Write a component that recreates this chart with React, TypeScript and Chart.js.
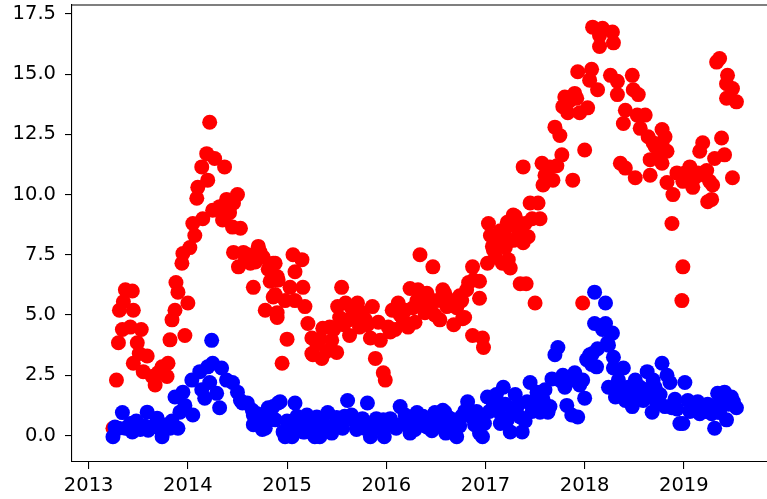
import React, { useEffect, useRef } from "react";
import { Chart, registerables } from "chart.js";

Chart.register(...registerables);

const redYears = [
  2013.245, 2013.28, 2013.30, 2013.31, 2013.34, 2013.35, 2013.37, 2013.42, 2013.44, 2013.45, 2013.45, 2013.49,
  2013.51, 2013.53, 2013.55, 2013.59, 2013.64, 2013.67, 2013.70, 2013.74, 2013.79, 2013.80, 2013.82, 2013.84,
  2013.87, 2013.88, 2013.90, 2013.94, 2013.95, 2013.97, 2014.00, 2014.02, 2014.05, 2014.07, 2014.09, 2014.10,
  2014.14, 2014.15, 2014.19, 2014.20, 2014.22, 2014.25, 2014.27, 2014.32, 2014.35, 2014.37, 2014.39, 2014.42,
  2014.45, 2014.46, 2014.46, 2014.50, 2014.51, 2014.53, 2014.56, 2014.63, 2014.66, 2014.71, 2014.76, 2014.78,
  2014.86, 2014.86, 2014.88, 2014.88, 2014.90, 2014.90, 2014.90, 2014.91, 2014.95, 2014.98, 2015.00, 2015.03,
  2015.06, 2015.08, 2015.08, 2015.15, 2015.16, 2015.18, 2015.21, 2015.25, 2015.25, 2015.26, 2015.35, 2015.36,
  2015.43, 2015.45, 2015.50, 2015.51, 2015.55, 2015.59, 2015.62, 2015.63, 2015.68, 2015.71, 2015.79, 2015.84,
  2015.86, 2015.89, 2015.94, 2015.97, 2015.99, 2016.02, 2016.06, 2016.09, 2016.12, 2016.19, 2016.22, 2016.24,
  2016.31, 2016.32, 2016.34, 2016.39, 2016.44, 2016.44, 2016.47, 2016.51, 2016.54, 2016.57, 2016.59, 2016.61,
  2016.66, 2016.68, 2016.69, 2016.76, 2016.77, 2016.79, 2016.81, 2016.83, 2016.87, 2016.87, 2016.88, 2016.94,
  2016.94, 2016.97, 2016.98, 2017.02, 2017.03, 2017.05, 2017.07, 2017.08, 2017.15, 2017.17, 2017.17, 2017.22,
  2017.23, 2017.25, 2017.28, 2017.28, 2017.30, 2017.35, 2017.37, 2017.38, 2017.38, 2017.41, 2017.43, 2017.45,
  2017.50, 2017.53, 2017.55, 2017.57, 2017.58, 2017.65, 2017.68, 2017.70, 2017.75, 2017.77, 2017.78, 2017.80,
  2017.83, 2017.88, 2017.92, 2017.93, 2017.95, 2017.98, 2018.00, 2018.03, 2018.05, 2018.07, 2018.08, 2018.13,
  2018.15, 2018.15, 2018.18, 2018.26, 2018.28, 2018.29, 2018.33, 2018.33, 2018.36, 2018.39, 2018.41, 2018.41,
  2018.48, 2018.49, 2018.51, 2018.53, 2018.54, 2018.56, 2018.61, 2018.64, 2018.66, 2018.66, 2018.69, 2018.78,
  2018.78, 2018.78, 2018.81, 2018.83, 2018.83, 2018.88, 2018.89, 2018.93, 2018.98, 2018.99, 2018.99, 2019.06,
  2019.09, 2019.14, 2019.16, 2019.19, 2019.23, 2019.24, 2019.26, 2019.28, 2019.29, 2019.31, 2019.33, 2019.36,
  2019.38, 2019.41, 2019.43, 2019.43, 2019.44, 2019.49, 2019.49, 2019.53,
  2015.30, 2015.33, 2015.40, 2015.47, 2015.53, 2015.57, 2015.65, 2015.73, 2015.76, 2015.81, 2015.92, 2016.04,
  2016.14, 2016.17, 2016.27, 2016.29, 2016.36, 2016.41, 2016.49, 2016.63, 2016.71, 2016.74,
  2017.10, 2017.12, 2017.19, 2017.20, 2017.32, 2017.40, 2017.47,
  2014.58, 2014.61, 2014.68, 2014.73, 2014.81, 2014.83,
  2018.71, 2018.74, 2019.01, 2019.03, 2019.11, 2019.21,
  2017.60, 2017.72, 2017.85, 2017.90,
];
const redValues = [
  0.3, 2.3, 3.85, 5.2, 4.4, 5.55, 6.05, 4.5, 6.0, 5.2, 3.0, 3.85,
  3.4, 4.4, 2.65, 3.3, 2.45, 2.1, 2.6, 2.85, 2.45, 3.0, 3.97, 4.8,
  5.2, 6.35, 5.95, 7.15, 7.55, 4.15, 5.5, 7.8, 8.8, 8.3, 9.85, 10.3,
  11.15, 9.0, 11.7, 10.6, 13.0, 9.35, 11.5, 9.5, 8.95, 11.15, 9.8, 9.25,
  8.65, 9.65, 7.6, 10.0, 7.0, 8.6, 7.6, 7.15, 6.15, 7.85, 7.4, 5.2,
  7.15, 5.75, 7.15, 5.85, 6.6, 5.1, 4.9, 6.45, 3.0, 5.6, 4.0, 6.15,
  7.5, 6.8, 5.6, 7.3, 6.15, 5.35, 4.65, 4.05, 3.4, 3.35, 3.2, 4.45,
  4.5, 3.95, 3.45, 5.35, 6.15, 5.5, 4.8, 4.15, 4.9, 5.5, 4.8, 4.05,
  5.35, 3.2, 3.95, 2.6, 2.3, 4.5, 5.2, 4.4, 5.5, 5.2, 4.5, 6.1,
  5.6, 6.05, 7.5, 5.1, 5.35, 5.6, 7.0, 5.6, 4.8, 6.05, 5.9, 5.35,
  5.4, 4.6, 5.6, 5.6, 4.85, 4.9, 6.05, 6.35, 7.0, 4.15, 6.45, 6.4,
  5.7, 4.05, 3.65, 7.15, 8.8, 8.3, 7.85, 7.7, 8.5, 8.05, 7.15, 8.85,
  7.3, 6.95, 8.1, 9.15, 9.1, 6.3, 8.45, 11.15, 8.0, 6.3, 8.25, 9.65,
  5.5, 9.65, 9.0, 11.3, 10.4, 11.15, 10.6, 12.8, 12.45, 11.65, 13.65, 14.05,
  13.4, 10.6, 14.0, 15.1, 13.4, 5.5, 11.85, 13.6, 14.75, 15.2, 16.95, 14.35,
  16.15, 16.6, 16.9, 14.95, 16.75, 16.3, 14.7, 14.15, 11.3, 12.95, 13.5, 11.1,
  14.95, 14.35, 10.7, 13.3, 14.15, 12.75, 13.3, 12.4, 11.45, 10.8, 12.15, 12.7,
  12.15, 11.3, 12.4, 11.8, 10.5, 8.8, 10.0, 10.9, 5.6, 7.0, 10.55, 11.15,
  10.3, 10.9, 11.8, 12.15, 11.0, 9.7, 10.55, 9.8, 10.4, 11.5, 15.5, 15.65,
  12.35, 11.65, 14.6, 14.0, 14.95, 14.4, 10.7, 13.85,
  3.8, 4.0, 3.5, 4.4, 4.9, 4.6, 5.3, 4.5, 5.1, 4.6, 4.7, 4.3,
  5.0, 4.8, 5.3, 4.7, 5.5, 5.9, 5.0, 5.6, 5.3, 5.8,
  7.4, 8.0, 8.4, 7.8, 8.6, 8.8, 9.0,
  7.3, 7.5, 7.2, 7.6, 6.9, 6.4,
  12.0, 11.6, 10.9, 10.6, 10.7, 10.8,
  10.8, 11.2, 13.9, 14.2,
];

const blueYears = [
  2013.245, 2013.265, 2013.34, 2013.42, 2013.44, 2013.59, 2013.60, 2013.69, 2013.74, 2013.79, 2013.87, 2013.90,
  2013.92, 2013.95, 2013.97, 2014.04, 2014.05, 2014.12, 2014.14, 2014.17, 2014.20, 2014.22, 2014.24, 2014.25,
  2014.29, 2014.32, 2014.34, 2014.39, 2014.45, 2014.50, 2014.53, 2014.55, 2014.60, 2014.65, 2014.66, 2014.66,
  2014.68, 2014.78, 2014.80, 2014.81, 2014.86, 2014.88, 2014.91, 2014.93, 2014.96, 2014.98, 2015.03, 2015.05,
  2015.08, 2015.16, 2015.18, 2015.20, 2015.28, 2015.30, 2015.33, 2015.41, 2015.45, 2015.53, 2015.61, 2015.65,
  2015.73, 2015.81, 2015.84, 2015.97, 2015.98, 2016.07, 2016.14, 2016.21, 2016.24, 2016.31, 2016.41, 2016.49,
  2016.56, 2016.57, 2016.59, 2016.60, 2016.67, 2016.69, 2016.71, 2016.82, 2016.86, 2016.94, 2016.96, 2016.97,
  2017.02, 2017.08, 2017.08, 2017.18, 2017.22, 2017.25, 2017.30, 2017.35, 2017.37, 2017.45, 2017.50, 2017.55,
  2017.63, 2017.67, 2017.70, 2017.73, 2017.78, 2017.82, 2017.87, 2017.90, 2017.93, 2017.98, 2018.00, 2018.02,
  2018.05, 2018.07, 2018.08, 2018.10, 2018.10, 2018.12, 2018.13, 2018.18, 2018.21, 2018.21, 2018.23, 2018.24,
  2018.24, 2018.28, 2018.29, 2018.29, 2018.31, 2018.31, 2018.39, 2018.41, 2018.51, 2018.53, 2018.59, 2018.63,
  2018.68, 2018.69, 2018.76, 2018.78, 2018.81, 2018.86, 2018.88, 2018.96, 2019.01, 2019.04, 2019.11, 2019.19,
  2019.26, 2019.31, 2019.34, 2019.36, 2019.41, 2019.43, 2019.48, 2019.53,
  2013.30, 2013.37, 2013.48, 2013.52, 2013.56, 2013.64, 2013.72, 2013.82, 2013.84,
  2014.70, 2014.73, 2014.75, 2014.83, 2015.00, 2015.10, 2015.13, 2015.23, 2015.25, 2015.36, 2015.38, 2015.48,
  2015.50, 2015.56, 2015.58, 2015.68, 2015.70, 2015.76, 2015.78, 2015.87, 2015.90, 2015.93, 2016.01, 2016.04,
  2016.10, 2016.17, 2016.19, 2016.27, 2016.29, 2016.34, 2016.37, 2016.44, 2016.46, 2016.52, 2016.63, 2016.74,
  2016.76, 2016.79, 2016.89, 2016.91, 2016.99,
  2017.04, 2017.11, 2017.13, 2017.15, 2017.20, 2017.27, 2017.32, 2017.40, 2017.42, 2017.47, 2017.52, 2017.58,
  2017.60, 2017.65, 2017.75, 2017.80, 2017.85, 2017.95,
  2018.34, 2018.36, 2018.44, 2018.46, 2018.48, 2018.56, 2018.61, 2018.66, 2018.71, 2018.73, 2018.83, 2018.91,
  2018.93, 2018.99, 2019.06, 2019.08, 2019.14, 2019.16, 2019.22, 2019.24, 2019.28, 2019.33, 2019.38, 2019.45,
  2019.50,
];
const blueValues = [
  -0.05, 0.35, 0.95, 0.5, 0.15, 0.97, 0.22, 0.72, -0.05, 0.45, 1.6, 0.3,
  0.97, 1.8, 1.25, 2.3, 0.85, 2.65, 1.9, 1.55, 2.85, 2.2, 3.95, 3.0,
  1.75, 1.15, 2.8, 2.3, 2.2, 1.8, 1.45, 1.35, 1.35, 1.05, 0.85, 0.45,
  0.5, 0.3, 0.85, 1.15, 1.2, 0.65, 1.35, 1.4, 0.15, -0.05, 0.35, -0.05,
  1.35, 0.15, 0.15, 0.85, -0.05, 0.77, -0.05, 0.95, 0.1, 0.65, 1.45, 0.85,
  0.5, 1.35, -0.05, 0.65, -0.05, 0.5, 1.2, 0.65, 0.1, 0.95, 0.35, 0.95,
  0.35, 1.05, 0.97, 0.1, 0.65, 0.45, -0.05, 1.4, 0.77, 0.1, 0.65, -0.05,
  1.6, 1.35, 1.25, 2.0, 0.65, 0.15, 1.7, 0.77, 0.15, 2.2, 1.45, 0.97,
  0.97, 2.35, 3.35, 3.65, 2.5, 1.25, 0.85, 2.6, 0.77, 2.3, 1.55, 3.15,
  3.35, 2.95, 3.4, 5.95, 4.65, 2.85, 3.6, 4.4, 5.5, 4.65, 3.85, 3.75,
  2.0, 4.25, 3.25, 2.8, 2.0, 1.6, 2.8, 1.45, 2.3, 1.8, 1.45, 2.65,
  0.97, 2.3, 1.7, 3.0, 1.2, 2.2, 1.15, 0.5, 2.2, 1.45, 1.05, 1.15,
  1.25, 0.3, 1.75, 0.95, 1.8, 0.65, 1.6, 1.15,
  0.3, 0.3, 0.6, 0.25, 0.4, 0.35, 0.3, 0.3, 0.6,
  0.9, 0.6, 0.25, 0.9, 0.6, 0.8, 0.5, 0.55, 0.3, 0.6, 0.25, 0.4,
  0.75, 0.3, 0.8, 0.6, 0.25, 0.7, 0.3, 0.5, 0.7, 0.3, 0.4, 0.7,
  0.3, 0.5, 0.85, 0.5, 0.25, 0.6, 0.8, 0.6, 0.2, 0.5, 0.75, 0.4,
  0.8, 1.0, 0.45, 1.0, 0.5,
  1.0, 1.7, 1.0, 0.5, 1.3, 0.9, 1.2, 0.6, 1.4, 1.0, 1.8, 1.5,
  1.9, 1.2, 2.3, 2.0, 2.3, 2.1,
  2.3, 1.7, 2.0, 1.6, 1.2, 2.0, 1.9, 1.6, 2.0, 1.3, 2.5, 1.5,
  1.1, 0.5, 1.0, 1.3, 1.4, 0.9, 1.0, 1.3, 0.9, 1.2, 1.5, 1.3,
  1.4,
];

const xTickYears = [2013, 2014, 2015, 2016, 2017, 2018, 2019];
const yTickValues = [0, 2.5, 5, 7.5, 10, 12.5, 15, 17.5];

const FONT = { family: "'DejaVu Sans', sans-serif", size: 19.5 };

export default function App() {
  const ref = useRef<HTMLCanvasElement | null>(null);

  useEffect(() => {
    if (!ref.current) return;
    const toPts = (xs: number[], ys: number[]) => xs.map((x, i) => ({ x, y: ys[i] }));
    const topBorder = {
      id: "topBorder",
      afterDraw(chart: any) {
        const { ctx, chartArea } = chart;
        ctx.save();
        ctx.strokeStyle = "#000";
        ctx.lineWidth = 1.1;
        ctx.beginPath();
        ctx.moveTo(chartArea.left, chartArea.top);
        ctx.lineTo(chartArea.right + 2, chartArea.top);
        ctx.stroke();
        ctx.restore();
      },
    };
    const chart = new Chart(ref.current, {
      type: "scatter",
      data: {
        datasets: [
          {
            label: "blue",
            data: toPts(blueYears, blueValues),
            backgroundColor: "#0000ff",
            borderWidth: 0,
            pointRadius: 7.5,
            pointHoverRadius: 7.5,
            order: 0,
          },
          {
            label: "red",
            data: toPts(redYears, redValues),
            backgroundColor: "#ff0000",
            borderWidth: 0,
            pointRadius: 7.5,
            pointHoverRadius: 7.5,
            order: 1,
          },
        ],
      },
      options: {
        animation: false,
        responsive: true,
        maintainAspectRatio: false,
        layout: { autoPadding: false, padding: { top: 5, left: 0, right: 0, bottom: 0 } },
        plugins: { legend: { display: false }, tooltip: { enabled: false } },
        scales: {
          x: {
            type: "linear",
            min: 2012.832,
            max: 2019.838,
            afterBuildTicks: (s: any) => {
              s.ticks = xTickYears.map((v) => ({ value: v }));
            },
            afterFit: (s: any) => {
              s.height = 37;
              s.paddingLeft = 0;
              s.paddingRight = 0;
            },
            ticks: {
              color: "#000",
              font: FONT,
              padding: 5,
              maxRotation: 0,
              autoSkip: false,
              callback: (v: any) => String(v),
            },
            grid: { drawOnChartArea: false, drawTicks: true, tickLength: 7, color: "#000", lineWidth: 1.1 },
            border: { display: true, color: "#000", width: 1.1 },
          },
          y: {
            type: "linear",
            min: -1.1,
            max: 17.87,
            afterBuildTicks: (s: any) => {
              s.ticks = yTickValues.map((v) => ({ value: v }));
            },
            afterFit: (s: any) => {
              s.width = 72;
              s.paddingTop = 0;
              s.paddingBottom = 0;
            },
            ticks: {
              color: "#000",
              font: FONT,
              padding: 9,
              autoSkip: false,
              callback: (v: any) => Number(v).toFixed(1),
            },
            grid: { drawOnChartArea: false, drawTicks: true, tickLength: 7, color: "#000", lineWidth: 1.1 },
            border: { display: true, color: "#000", width: 1.1 },
          },
        },
      },
      plugins: [topBorder],
    });
    return () => chart.destroy();
  }, []);

  return (
    <div style={{ position: "fixed", left: 0, top: 0, width: 767, height: 499, background: "#fff", overflow: "hidden" }}>
      <canvas ref={ref} />
    </div>
  );
}
